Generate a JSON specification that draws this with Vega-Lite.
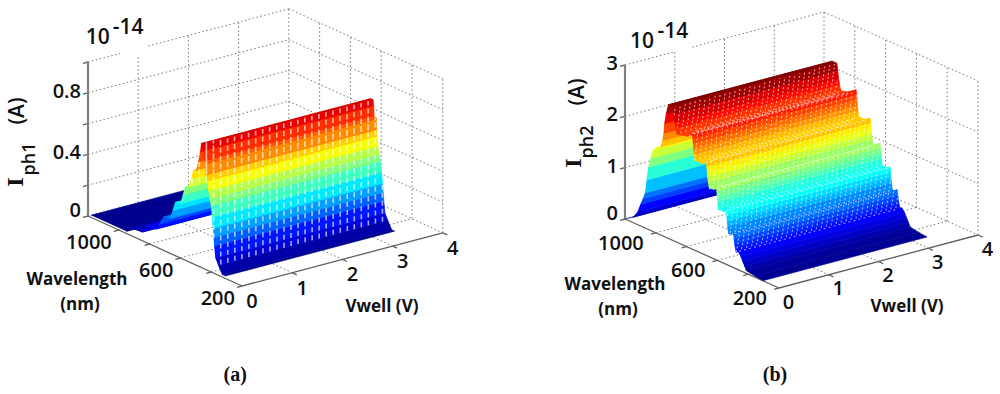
{
"$schema":"https://vega.github.io/schema/vega-lite/v6.json",
"width":1000,"height":394,"padding":0,"autosize":{"type":"none"},"background":"white",
"config":{"view":{"stroke":null}},
"datasets":{
"grid":[
{"p":"a","v":0,"w":1200,"i":0,"v2":4,"w2":1200,"i2":0},{"p":"a","v":4,"w":1200,"i":0,"v2":4,"w2":200,"i2":0},
{"p":"a","v":0,"w":1200,"i":0.2,"v2":4,"w2":1200,"i2":0.2},{"p":"a","v":4,"w":1200,"i":0.2,"v2":4,"w2":200,"i2":0.2},
{"p":"a","v":0,"w":1200,"i":0.4,"v2":4,"w2":1200,"i2":0.4},{"p":"a","v":4,"w":1200,"i":0.4,"v2":4,"w2":200,"i2":0.4},
{"p":"a","v":0,"w":1200,"i":0.6,"v2":4,"w2":1200,"i2":0.6},{"p":"a","v":4,"w":1200,"i":0.6,"v2":4,"w2":200,"i2":0.6},
{"p":"a","v":0,"w":1200,"i":0.8,"v2":4,"w2":1200,"i2":0.8},{"p":"a","v":4,"w":1200,"i":0.8,"v2":4,"w2":200,"i2":0.8},
{"p":"a","v":0,"w":1200,"i":1,"v2":0.64,"w2":1200,"i2":1},{"p":"a","v":1.2,"w":1200,"i":1,"v2":4,"w2":1200,"i2":1},{"p":"a","v":4,"w":1200,"i":1,"v2":4,"w2":200,"i2":1},
{"p":"a","v":1,"w":1200,"i":0,"v2":1,"w2":1200,"i2":0.95},{"p":"a","v":2,"w":1200,"i":0,"v2":2,"w2":1200,"i2":1},{"p":"a","v":3,"w":1200,"i":0,"v2":3,"w2":1200,"i2":1},{"p":"a","v":4,"w":1200,"i":0,"v2":4,"w2":1200,"i2":1},
{"p":"a","v":4,"w":1000,"i":0,"v2":4,"w2":1000,"i2":1},{"p":"a","v":4,"w":800,"i":0,"v2":4,"w2":800,"i2":1},{"p":"a","v":4,"w":600,"i":0,"v2":4,"w2":600,"i2":1},{"p":"a","v":4,"w":400,"i":0,"v2":4,"w2":400,"i2":1},{"p":"a","v":4,"w":200,"i":0,"v2":4,"w2":200,"i2":1},
{"p":"a","v":1,"w":1200,"i":0,"v2":1,"w2":200,"i2":0},{"p":"a","v":2,"w":1200,"i":0,"v2":2,"w2":200,"i2":0},{"p":"a","v":3,"w":1200,"i":0,"v2":3,"w2":200,"i2":0},
{"p":"a","v":0,"w":1000,"i":0,"v2":4,"w2":1000,"i2":0},{"p":"a","v":0,"w":800,"i":0,"v2":4,"w2":800,"i2":0},{"p":"a","v":0,"w":600,"i":0,"v2":4,"w2":600,"i2":0},{"p":"a","v":0,"w":400,"i":0,"v2":4,"w2":400,"i2":0},
{"p":"b","v":0,"w":1200,"i":0,"v2":4,"w2":1200,"i2":0},{"p":"b","v":4,"w":1200,"i":0,"v2":4,"w2":200,"i2":0},
{"p":"b","v":0,"w":1200,"i":1,"v2":4,"w2":1200,"i2":1},{"p":"b","v":4,"w":1200,"i":1,"v2":4,"w2":200,"i2":1},
{"p":"b","v":0,"w":1200,"i":2,"v2":4,"w2":1200,"i2":2},{"p":"b","v":4,"w":1200,"i":2,"v2":4,"w2":200,"i2":2},
{"p":"b","v":0,"w":1200,"i":3,"v2":1,"w2":1200,"i2":3},{"p":"b","v":1.35,"w":1200,"i":3,"v2":4,"w2":1200,"i2":3},{"p":"b","v":4,"w":1200,"i":3,"v2":4,"w2":200,"i2":3},
{"p":"b","v":1,"w":1200,"i":0,"v2":1,"w2":1200,"i2":3},{"p":"b","v":2,"w":1200,"i":0,"v2":2,"w2":1200,"i2":3},{"p":"b","v":3,"w":1200,"i":0,"v2":3,"w2":1200,"i2":3},{"p":"b","v":4,"w":1200,"i":0,"v2":4,"w2":1200,"i2":3},
{"p":"b","v":4,"w":1000,"i":0,"v2":4,"w2":1000,"i2":3},{"p":"b","v":4,"w":800,"i":0,"v2":4,"w2":800,"i2":3},{"p":"b","v":4,"w":600,"i":0,"v2":4,"w2":600,"i2":3},{"p":"b","v":4,"w":400,"i":0,"v2":4,"w2":400,"i2":3},{"p":"b","v":4,"w":200,"i":0,"v2":4,"w2":200,"i2":3},
{"p":"b","v":1,"w":1200,"i":0,"v2":1,"w2":200,"i2":0},{"p":"b","v":2,"w":1200,"i":0,"v2":2,"w2":200,"i2":0},{"p":"b","v":3,"w":1200,"i":0,"v2":3,"w2":200,"i2":0},
{"p":"b","v":0,"w":1000,"i":0,"v2":4,"w2":1000,"i2":0},{"p":"b","v":0,"w":800,"i":0,"v2":4,"w2":800,"i2":0},{"p":"b","v":0,"w":600,"i":0,"v2":4,"w2":600,"i2":0},{"p":"b","v":0,"w":400,"i":0,"v2":4,"w2":400,"i2":0}
],
"floorAxes":[
{"p":"a","v":0,"w":1200,"i":0,"v2":0,"w2":200,"i2":0},{"p":"a","v":0,"w":200,"i":0,"v2":4,"w2":200,"i2":0},
{"p":"b","v":0,"w":1200,"i":0,"v2":0,"w2":200,"i2":0},{"p":"b","v":0,"w":200,"i":0,"v2":4,"w2":200,"i2":0},
{"p":"a","v":-0.1,"w":1000,"i":0,"v2":0,"w2":1000,"i2":0},{"p":"a","v":-0.1,"w":800,"i":0,"v2":0,"w2":800,"i2":0},{"p":"a","v":-0.1,"w":600,"i":0,"v2":0,"w2":600,"i2":0},{"p":"a","v":-0.1,"w":400,"i":0,"v2":0,"w2":400,"i2":0},{"p":"a","v":-0.1,"w":1200,"i":0,"v2":0,"w2":1200,"i2":0},{"p":"a","v":-0.1,"w":200,"i":0,"v2":0,"w2":200,"i2":0},
{"p":"a","v":1,"w":170,"i":0,"v2":1,"w2":200,"i2":0},{"p":"a","v":2,"w":170,"i":0,"v2":2,"w2":200,"i2":0},{"p":"a","v":3,"w":170,"i":0,"v2":3,"w2":200,"i2":0},{"p":"a","v":4,"w":170,"i":0,"v2":4,"w2":200,"i2":0},
{"p":"a","v":-0.1,"w":1200,"i":0.2,"v2":0,"w2":1200,"i2":0.2},{"p":"a","v":-0.1,"w":1200,"i":0.4,"v2":0,"w2":1200,"i2":0.4},{"p":"a","v":-0.1,"w":1200,"i":0.6,"v2":0,"w2":1200,"i2":0.6},{"p":"a","v":-0.1,"w":1200,"i":0.8,"v2":0,"w2":1200,"i2":0.8},{"p":"a","v":-0.1,"w":1200,"i":1,"v2":0,"w2":1200,"i2":1},
{"p":"b","v":-0.1,"w":1000,"i":0,"v2":0,"w2":1000,"i2":0},{"p":"b","v":-0.1,"w":800,"i":0,"v2":0,"w2":800,"i2":0},{"p":"b","v":-0.1,"w":600,"i":0,"v2":0,"w2":600,"i2":0},{"p":"b","v":-0.1,"w":400,"i":0,"v2":0,"w2":400,"i2":0},{"p":"b","v":-0.1,"w":1200,"i":0,"v2":0,"w2":1200,"i2":0},{"p":"b","v":-0.1,"w":200,"i":0,"v2":0,"w2":200,"i2":0},
{"p":"b","v":1,"w":170,"i":0,"v2":1,"w2":200,"i2":0},{"p":"b","v":2,"w":170,"i":0,"v2":2,"w2":200,"i2":0},{"p":"b","v":3,"w":170,"i":0,"v2":3,"w2":200,"i2":0},{"p":"b","v":4,"w":170,"i":0,"v2":4,"w2":200,"i2":0},
{"p":"b","v":-0.1,"w":1200,"i":1,"v2":0,"w2":1200,"i2":1},{"p":"b","v":-0.1,"w":1200,"i":2,"v2":0,"w2":1200,"i2":2},{"p":"b","v":-0.1,"w":1200,"i":3,"v2":0,"w2":1200,"i2":3}
],
"zAxes":[
{"p":"a","v":0,"w":1200,"i":0,"v2":0,"w2":1200,"i2":1},
{"p":"b","v":0,"w":1200,"i":0,"v2":0,"w2":1200,"i2":3}
],
"prof":[
{"p":"a","w":1200,"i":0},{"p":"a","w":970,"i":0},{"p":"a","w":947,"i":0.03},{"p":"a","w":869,"i":0.04},{"p":"a","w":845,"i":0.09},{"p":"a","w":780,"i":0.1},{"p":"a","w":760,"i":0.14},{"p":"a","w":732,"i":0.2},{"p":"a","w":690,"i":0.21},{"p":"a","w":670,"i":0.27},{"p":"a","w":655,"i":0.33},{"p":"a","w":620,"i":0.34},{"p":"a","w":605,"i":0.4},{"p":"a","w":590,"i":0.46},{"p":"a","w":565,"i":0.47},{"p":"a","w":550,"i":0.53},{"p":"a","w":538,"i":0.59},{"p":"a","w":520,"i":0.6},{"p":"a","w":505,"i":0.66},{"p":"a","w":492,"i":0.73},{"p":"a","w":485,"i":0.79},{"p":"a","w":470,"i":0.79},{"p":"a","w":466,"i":0.75},{"p":"a","w":463,"i":0.68},{"p":"a","w":460,"i":0.6},{"p":"a","w":455,"i":0.63},{"p":"a","w":451,"i":0.685},{"p":"a","w":449,"i":0.67},{"p":"a","w":447,"i":0.6},{"p":"a","w":445,"i":0.56},{"p":"a","w":438,"i":0.5},{"p":"a","w":430,"i":0.45},{"p":"a","w":421,"i":0.41},{"p":"a","w":415,"i":0.34},{"p":"a","w":408,"i":0.27},{"p":"a","w":404,"i":0.214},{"p":"a","w":400,"i":0.16},{"p":"a","w":393,"i":0.09},{"p":"a","w":375,"i":0.05},{"p":"a","w":349,"i":0},{"p":"a","w":330,"i":0},
{"p":"b","w":1200,"i":0},{"p":"b","w":1150,"i":0.1},{"p":"b","w":1120,"i":0.24},{"p":"b","w":1100,"i":0.42},{"p":"b","w":1085,"i":0.55},{"p":"b","w":1070,"i":0.68},{"p":"b","w":1060,"i":0.95},{"p":"b","w":1050,"i":1.21},{"p":"b","w":1035,"i":1.4},{"p":"b","w":1020,"i":1.58},{"p":"b","w":1000,"i":1.65},{"p":"b","w":970,"i":1.71},{"p":"b","w":958,"i":1.85},{"p":"b","w":950,"i":2.0},{"p":"b","w":945,"i":2.2},{"p":"b","w":935,"i":2.4},{"p":"b","w":920,"i":2.6},{"p":"b","w":890,"i":2.6},{"p":"b","w":884,"i":2.45},{"p":"b","w":878,"i":2.3},{"p":"b","w":872,"i":2.2},{"p":"b","w":864,"i":2.1},{"p":"b","w":800,"i":2.15},{"p":"b","w":765,"i":2.25},{"p":"b","w":762,"i":2.15},{"p":"b","w":759,"i":2.05},{"p":"b","w":756,"i":1.95},{"p":"b","w":752,"i":1.85},{"p":"b","w":748,"i":1.75},{"p":"b","w":700,"i":1.75},{"p":"b","w":674,"i":1.82},{"p":"b","w":671,"i":1.72},{"p":"b","w":668,"i":1.62},{"p":"b","w":665,"i":1.52},{"p":"b","w":660,"i":1.42},{"p":"b","w":655,"i":1.32},{"p":"b","w":625,"i":1.35},{"p":"b","w":609,"i":1.42},{"p":"b","w":606,"i":1.32},{"p":"b","w":603,"i":1.22},{"p":"b","w":600,"i":1.12},{"p":"b","w":596,"i":1.0},{"p":"b","w":565,"i":1.0},{"p":"b","w":544,"i":1.04},{"p":"b","w":541,"i":0.94},{"p":"b","w":538,"i":0.84},{"p":"b","w":535,"i":0.74},{"p":"b","w":530,"i":0.62},{"p":"b","w":510,"i":0.62},{"p":"b","w":498,"i":0.66},{"p":"b","w":494,"i":0.56},{"p":"b","w":490,"i":0.46},{"p":"b","w":485,"i":0.38},{"p":"b","w":480,"i":0.32},{"p":"b","w":468,"i":0.35},{"p":"b","w":450,"i":0.28},{"p":"b","w":438,"i":0.2},{"p":"b","w":425,"i":0.12},{"p":"b","w":414,"i":0.05},{"p":"b","w":360,"i":0.02},{"p":"b","w":305,"i":0}
],
"ticks":[
{"p":"a","k":"i","v":0,"w":1200,"i":0.8,"label":"0.8"},{"p":"a","k":"i","v":0,"w":1200,"i":0.4,"label":"0.4"},{"p":"a","k":"i","v":0,"w":1200,"i":0,"label":"0"},
{"p":"a","k":"w","v":0,"w":1000,"i":0,"label":"1000"},{"p":"a","k":"w","v":0,"w":600,"i":0,"label":"600"},{"p":"a","k":"w","v":0,"w":200,"i":0,"label":"200"},
{"p":"a","k":"v","v":0,"w":200,"i":0,"label":"0"},{"p":"a","k":"v","v":1,"w":200,"i":0,"label":"1"},{"p":"a","k":"v","v":2,"w":200,"i":0,"label":"2"},{"p":"a","k":"v","v":3,"w":200,"i":0,"label":"3"},{"p":"a","k":"v","v":4,"w":200,"i":0,"label":"4"},
{"p":"b","k":"i","v":0,"w":1200,"i":3,"label":"3"},{"p":"b","k":"i","v":0,"w":1200,"i":2,"label":"2"},{"p":"b","k":"i","v":0,"w":1200,"i":1,"label":"1"},{"p":"b","k":"i","v":0,"w":1200,"i":0,"label":"0"},
{"p":"b","k":"w","v":0,"w":1000,"i":0,"label":"1000"},{"p":"b","k":"w","v":0,"w":600,"i":0,"label":"600"},{"p":"b","k":"w","v":0,"w":200,"i":0,"label":"200"},
{"p":"b","k":"v","v":0,"w":200,"i":0,"label":"0"},{"p":"b","k":"v","v":1,"w":200,"i":0,"label":"1"},{"p":"b","k":"v","v":2,"w":200,"i":0,"label":"2"},{"p":"b","k":"v","v":3,"w":200,"i":0,"label":"3"},{"p":"b","k":"v","v":4,"w":200,"i":0,"label":"4"}
],
"notes":[
{"p":"a","k":"title","v":-1.91,"w":649,"i":0,"label":"Wavelength"},{"p":"a","k":"title","v":-2.565,"w":416,"i":0,"label":"(nm)"},{"p":"a","k":"title","v":1.18,"w":-324,"i":0,"label":"Vwell (V)"},
{"p":"a","k":"cap","v":-2.55,"w":-587,"i":0,"label":"(a)"},{"p":"a","k":"exp","v":5.05,"w":2783,"i":0,"label":"10"},{"p":"a","k":"exp","v":5.71,"w":2801,"i":0,"label":"-14"},
{"p":"a","k":"symbol","v":0.048,"w":1677,"i":0,"label":"I"},{"p":"a","k":"sub","v":0.848,"w":1853,"i":0,"label":"ph1"},{"p":"a","k":"rot","v":2.026,"w":2315,"i":0,"label":"(A)"},
{"p":"b","k":"title","v":-1.983,"w":624,"i":0,"label":"Wavelength"},{"p":"b","k":"title","v":-2.649,"w":390,"i":0,"label":"(nm)"},{"p":"b","k":"title","v":1.079,"w":-283,"i":0,"label":"Vwell (V)"},
{"p":"b","k":"cap","v":-2.498,"w":-581,"i":0,"label":"(b)"},{"p":"b","k":"exp","v":5.195,"w":2768,"i":0,"label":"10"},{"p":"b","k":"exp","v":5.867,"w":2784,"i":0,"label":"-14"},
{"p":"b","k":"symbol","v":0.945,"w":1830,"i":0,"label":"I"},{"p":"b","k":"sub","v":1.7,"w":1990,"i":0,"label":"ph2"},{"p":"b","k":"rot","v":2.981,"w":2468,"i":0,"label":"(A)"}
]
},
"layer":[
{"data":{"name":"grid"},
 "transform":[
  {"calculate":"datum.p=='a'?242+50.2*datum.v-0.154*(datum.w-200):779+49.75*datum.v-0.154*(datum.w-200)","as":"px"},
  {"calculate":"datum.p=='a'?286-13.3*datum.v-0.07*(datum.w-200)-154*datum.i:288-13.25*datum.v-0.069*(datum.w-200)-154*datum.i/3","as":"py"},
  {"calculate":"datum.p=='a'?242+50.2*datum.v2-0.154*(datum.w2-200):779+49.75*datum.v2-0.154*(datum.w2-200)","as":"px2"},
  {"calculate":"datum.p=='a'?286-13.3*datum.v2-0.07*(datum.w2-200)-154*datum.i2:288-13.25*datum.v2-0.069*(datum.w2-200)-154*datum.i2/3","as":"py2"}],
 "mark":{"type":"rule","stroke":"#777777","strokeWidth":1,"strokeDash":[1.5,2.5]},
 "encoding":{"x":{"field":"px","type":"quantitative","scale":{"domain":[0,1000],"nice":false,"zero":false},"axis":null},"y":{"field":"py","type":"quantitative","scale":{"domain":[394,0],"nice":false,"zero":false},"axis":null},"x2":{"field":"px2"},"y2":{"field":"py2"}}},
{"data":{"name":"floorAxes"},
 "transform":[
  {"calculate":"datum.p=='a'?242+50.2*datum.v-0.154*(datum.w-200):779+49.75*datum.v-0.154*(datum.w-200)","as":"px"},
  {"calculate":"datum.p=='a'?286-13.3*datum.v-0.07*(datum.w-200)-154*datum.i:288-13.25*datum.v-0.069*(datum.w-200)-154*datum.i/3","as":"py"},
  {"calculate":"datum.p=='a'?242+50.2*datum.v2-0.154*(datum.w2-200):779+49.75*datum.v2-0.154*(datum.w2-200)","as":"px2"},
  {"calculate":"datum.p=='a'?286-13.3*datum.v2-0.07*(datum.w2-200)-154*datum.i2:288-13.25*datum.v2-0.069*(datum.w2-200)-154*datum.i2/3","as":"py2"}],
 "mark":{"type":"rule","stroke":"#606060","strokeWidth":1.3},
 "encoding":{"x":{"field":"px","type":"quantitative"},"y":{"field":"py","type":"quantitative"},"x2":{"field":"px2"},"y2":{"field":"py2"}}},
{"data":{"name":"zAxes"},
 "transform":[
  {"calculate":"datum.p=='a'?242+50.2*datum.v-0.154*(datum.w-200):779+49.75*datum.v-0.154*(datum.w-200)","as":"px"},
  {"calculate":"datum.p=='a'?286-13.3*datum.v-0.07*(datum.w-200)-154*datum.i:288-13.25*datum.v-0.069*(datum.w-200)-154*datum.i/3","as":"py"},
  {"calculate":"datum.p=='a'?242+50.2*datum.v2-0.154*(datum.w2-200):779+49.75*datum.v2-0.154*(datum.w2-200)","as":"px2"},
  {"calculate":"datum.p=='a'?286-13.3*datum.v2-0.07*(datum.w2-200)-154*datum.i2:288-13.25*datum.v2-0.069*(datum.w2-200)-154*datum.i2/3","as":"py2"}],
 "mark":{"type":"rule","stroke":"#808080","strokeWidth":2.2},
 "encoding":{"x":{"field":"px","type":"quantitative"},"y":{"field":"py","type":"quantitative"},"x2":{"field":"px2"},"y2":{"field":"py2"}}},
{"data":{"name":"prof"},
 "transform":[
  {"window":[{"op":"lead","field":"w","as":"w2"},{"op":"lead","field":"i","as":"i2"}],"groupby":["p"],"sort":[{"field":"w","order":"descending"}]},
  {"filter":"isValid(datum.w2)"},
  {"calculate":"datum.p+'_'+datum.w","as":"strip"},
  {"calculate":"min(1,(datum.i+datum.i2)/2/(datum.p=='a'?0.86:2.6))","as":"c"},
  {"calculate":"[0,1,2,3]","as":"corner"},
  {"flatten":["corner"]},
  {"calculate":"datum.corner==0||datum.corner==3?(datum.p=='a'?0.06:0):(datum.p=='a'?3.44:3.3)","as":"vv"},
  {"calculate":"datum.corner<2?datum.w:datum.w2","as":"ww"},
  {"calculate":"datum.corner<2?datum.i:datum.i2","as":"ii"},
  {"calculate":"datum.p=='a'?242+50.2*datum.vv-0.154*(datum.ww-200):779+49.75*datum.vv-0.154*(datum.ww-200)","as":"px"},
  {"calculate":"datum.p=='a'?286-13.3*datum.vv-0.07*(datum.ww-200)-154*datum.ii:288-13.25*datum.vv-0.069*(datum.ww-200)-154*datum.ii/3","as":"py"}],
 "mark":{"type":"line","strokeWidth":0.6,"interpolate":"linear"},
 "encoding":{
  "x":{"field":"px","type":"quantitative"},"y":{"field":"py","type":"quantitative"},
  "detail":{"field":"strip"},
  "order":{"field":"corner","type":"quantitative"},
  "fill":{"field":"c","type":"quantitative","legend":null,"scale":{"domain":[0,0.125,0.25,0.375,0.5,0.625,0.75,0.875,1],"range":["#00008f","#0000ff","#0080ff","#00ffff","#80ff80","#ffff00","#ff8000","#ff0000","#800000"],"interpolate":"rgb"}},
  "stroke":{"field":"c","type":"quantitative","legend":null,"scale":{"domain":[0,0.125,0.25,0.375,0.5,0.625,0.75,0.875,1],"range":["#00008f","#0000ff","#0080ff","#00ffff","#80ff80","#ffff00","#ff8000","#ff0000","#800000"],"interpolate":"rgb"}}}},
{"data":{"name":"prof"},
 "transform":[
  {"filter":"datum.p=='a'&&datum.w<=600&&datum.i>=0.05"},
  {"calculate":"[-1,-0.86,-0.72,-0.58,-0.44,-0.3,-0.16,-0.02,0.12,0.26,0.4,0.54,0.68,0.82,0.96,1.1,1.24,1.38,1.52,1.66,1.8,1.94,2.08,2.22,2.36,2.5,2.64,2.78,2.92,3.06,3.2,3.34]","as":"m"},
  {"flatten":["m"]},
  {"calculate":"datum.m+0.003*(datum.w-330)","as":"vv"},
  {"filter":"datum.vv>0.06&&datum.vv<3.44&&(datum.w<=470||datum.vv<0.5)"},
  {"calculate":"242+50.2*datum.vv-0.154*(datum.w-200)","as":"px"},
  {"calculate":"286-13.3*datum.vv-0.07*(datum.w-200)-154*datum.i","as":"py"}],
 "mark":{"type":"line","stroke":"white","strokeWidth":1.6,"strokeDash":[5,3],"opacity":0.65},
 "encoding":{"x":{"field":"px","type":"quantitative"},"y":{"field":"py","type":"quantitative"},"detail":{"field":"m"},"order":{"field":"w","type":"quantitative"}}},
{"data":{"name":"prof"},
 "transform":[
  {"filter":"datum.p=='b'&&datum.w<=890&&datum.i>=0.3"},
  {"calculate":"[-4,-3.9,-3.8,-3.7,-3.6,-3.5,-3.4,-3.3,-3.2,-3.1,-3,-2.9,-2.8,-2.7,-2.6,-2.5,-2.4,-2.3,-2.2,-2.1,-2,-1.9,-1.8,-1.7,-1.6,-1.5,-1.4,-1.3,-1.2,-1.1,-1,-0.9,-0.8,-0.7,-0.6,-0.5,-0.4,-0.3,-0.2,-0.1,0,0.1,0.2,0.3,0.4,0.5,0.6,0.7,0.8,0.9,1,1.1,1.2,1.3,1.4,1.5,1.6,1.7,1.8,1.9,2,2.1,2.2,2.3,2.4,2.5,2.6,2.7,2.8,2.9,3,3.1,3.2]","as":"m"},
  {"flatten":["m"]},
  {"calculate":"datum.m+0.0067*(datum.w-300)","as":"vv"},
  {"filter":"datum.vv>0&&datum.vv<3.3"},
  {"calculate":"779+49.75*datum.vv-0.154*(datum.w-200)","as":"px"},
  {"calculate":"288-13.25*datum.vv-0.069*(datum.w-200)-154*datum.i/3","as":"py"}],
 "mark":{"type":"line","stroke":"white","strokeWidth":1.1,"strokeDash":[2,2],"opacity":0.6},
 "encoding":{"x":{"field":"px","type":"quantitative"},"y":{"field":"py","type":"quantitative"},"detail":{"field":"m"},"order":{"field":"w","type":"quantitative"}}},
{"data":{"name":"ticks"},
 "transform":[
  {"filter":"datum.k!='v'"},
  {"calculate":"(datum.p=='a'?242+50.2*datum.v-0.154*(datum.w-200):779+49.75*datum.v-0.154*(datum.w-200))+(datum.k=='i'?-7:(datum.p=='a'?-7:-12))","as":"px"},
  {"calculate":"(datum.p=='a'?286-13.3*datum.v-0.07*(datum.w-200)-154*datum.i:288-13.25*datum.v-0.069*(datum.w-200)-154*datum.i/3)+(datum.k=='i'?(datum.i==0?-5.5:-1):(datum.p=='a'?13:11))","as":"py"}],
 "mark":{"type":"text","align":"right","baseline":"middle","font":"Open Sans","fontWeight":600,"fontSize":20,"fill":"#111111"},
 "encoding":{"x":{"field":"px","type":"quantitative"},"y":{"field":"py","type":"quantitative"},"text":{"field":"label"}}},
{"data":{"name":"ticks"},
 "transform":[
  {"filter":"datum.k=='v'"},
  {"calculate":"(datum.p=='a'?242+50.2*datum.v-0.154*(datum.w-200):779+49.75*datum.v-0.154*(datum.w-200))+(datum.p=='a'?10:9.5)","as":"px"},
  {"calculate":"(datum.p=='a'?286-13.3*datum.v-0.07*(datum.w-200):288-13.25*datum.v-0.069*(datum.w-200))+(datum.p=='a'?16:14.5)","as":"py"}],
 "mark":{"type":"text","align":"center","baseline":"middle","font":"Open Sans","fontWeight":600,"fontSize":20,"fill":"#111111"},
 "encoding":{"x":{"field":"px","type":"quantitative"},"y":{"field":"py","type":"quantitative"},"text":{"field":"label"}}},
{"data":{"name":"notes"},
 "transform":[{"filter":"datum.k=='title'"},
  {"calculate":"datum.p=='a'?242+50.2*datum.v-0.154*(datum.w-200):779+49.75*datum.v-0.154*(datum.w-200)","as":"px"},
  {"calculate":"datum.p=='a'?286-13.3*datum.v-0.07*(datum.w-200):288-13.25*datum.v-0.069*(datum.w-200)","as":"py"}],
 "mark":{"type":"text","align":"center","baseline":"middle","font":"Open Sans","fontWeight":"bold","fontSize":17,"fill":"#111111"},
 "encoding":{"x":{"field":"px","type":"quantitative"},"y":{"field":"py","type":"quantitative"},"text":{"field":"label"}}},
{"data":{"name":"notes"},
 "transform":[{"filter":"datum.k=='exp'"},
  {"calculate":"datum.p=='a'?242+50.2*datum.v-0.154*(datum.w-200):779+49.75*datum.v-0.154*(datum.w-200)","as":"px"},
  {"calculate":"datum.p=='a'?286-13.3*datum.v-0.07*(datum.w-200):288-13.25*datum.v-0.069*(datum.w-200)","as":"py"}],
 "mark":{"type":"text","align":"center","baseline":"middle","font":"Open Sans","fontWeight":600,"fontSize":21,"fill":"#111111"},
 "encoding":{"x":{"field":"px","type":"quantitative"},"y":{"field":"py","type":"quantitative"},"text":{"field":"label"}}},
{"data":{"name":"notes"},
 "transform":[{"filter":"datum.k=='cap'"},
  {"calculate":"datum.p=='a'?242+50.2*datum.v-0.154*(datum.w-200):779+49.75*datum.v-0.154*(datum.w-200)","as":"px"},
  {"calculate":"datum.p=='a'?286-13.3*datum.v-0.07*(datum.w-200):288-13.25*datum.v-0.069*(datum.w-200)","as":"py"}],
 "mark":{"type":"text","align":"center","baseline":"middle","font":"Liberation Serif","fontWeight":"bold","fontSize":20,"fill":"#111111"},
 "encoding":{"x":{"field":"px","type":"quantitative"},"y":{"field":"py","type":"quantitative"},"text":{"field":"label"}}},
{"data":{"name":"notes"},
 "transform":[{"filter":"datum.k=='rot'"},
  {"calculate":"datum.p=='a'?242+50.2*datum.v-0.154*(datum.w-200):779+49.75*datum.v-0.154*(datum.w-200)","as":"px"},
  {"calculate":"datum.p=='a'?286-13.3*datum.v-0.07*(datum.w-200):288-13.25*datum.v-0.069*(datum.w-200)","as":"py"}],
 "mark":{"type":"text","align":"center","baseline":"middle","angle":270,"font":"Open Sans","fontWeight":600,"fontSize":21,"fill":"#111111"},
 "encoding":{"x":{"field":"px","type":"quantitative"},"y":{"field":"py","type":"quantitative"},"text":{"field":"label"}}},
{"data":{"name":"notes"},
 "transform":[{"filter":"datum.k=='symbol'"},
  {"calculate":"datum.p=='a'?242+50.2*datum.v-0.154*(datum.w-200):779+49.75*datum.v-0.154*(datum.w-200)","as":"px"},
  {"calculate":"datum.p=='a'?286-13.3*datum.v-0.07*(datum.w-200):288-13.25*datum.v-0.069*(datum.w-200)","as":"py"}],
 "mark":{"type":"text","align":"center","baseline":"middle","angle":270,"font":"DejaVu Serif","fontWeight":"bold","fontSize":20,"fill":"#111111"},
 "encoding":{"x":{"field":"px","type":"quantitative"},"y":{"field":"py","type":"quantitative"},"text":{"field":"label"}}},
{"data":{"name":"notes"},
 "transform":[{"filter":"datum.k=='sub'"},
  {"calculate":"datum.p=='a'?242+50.2*datum.v-0.154*(datum.w-200):779+49.75*datum.v-0.154*(datum.w-200)","as":"px"},
  {"calculate":"datum.p=='a'?286-13.3*datum.v-0.07*(datum.w-200):288-13.25*datum.v-0.069*(datum.w-200)","as":"py"}],
 "mark":{"type":"text","align":"center","baseline":"middle","angle":270,"font":"Open Sans","fontWeight":600,"fontSize":18,"fill":"#111111"},
 "encoding":{"x":{"field":"px","type":"quantitative"},"y":{"field":"py","type":"quantitative"},"text":{"field":"label"}}}
]
}
